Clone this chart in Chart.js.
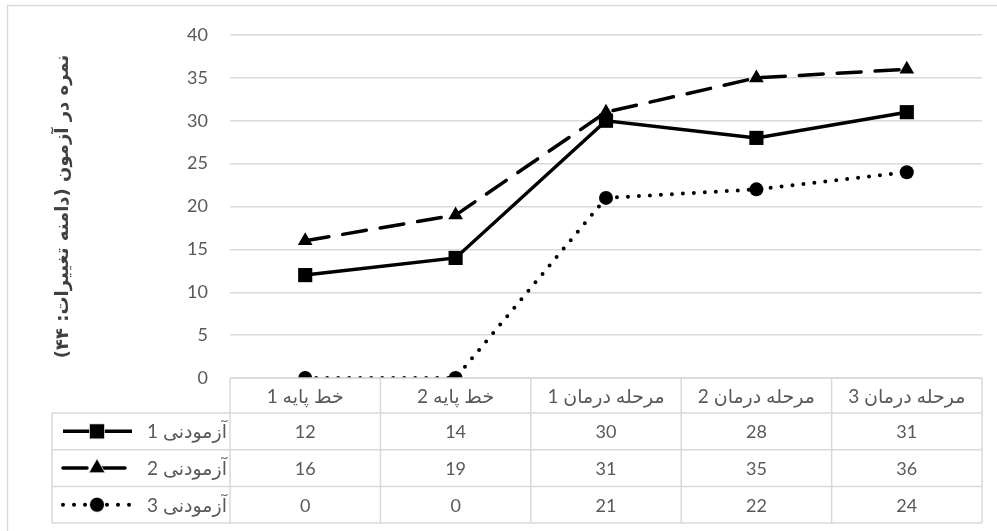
<!DOCTYPE html>
<html>
<head>
<meta charset="utf-8">
<style>
  html, body { margin: 0; padding: 0; background: #fff; }
</style>
</head>
<body>
<canvas id="score-canvas" width="997" height="531"></canvas>
<script src="https://cdn.jsdelivr.net/npm/chart.js@4/dist/chart.umd.min.js"></script>
<script>
    // Categories and series
    let stages = ['خط پایه 1', 'خط پایه 2', 'مرحله درمان 1', 'مرحله درمان 2', 'مرحله درمان 3'];
    let subject_names = ['آزمودنی 1', 'آزمودنی 2', 'آزمودنی 3'];
    let subject_1 = [12, 14, 30, 28, 31];
    let subject_2 = [16, 19, 31, 35, 36];
    let subject_3 = [0, 0, 21, 22, 24];
    let y_title = 'نمره در آزمون (دامنه تغییرات: ۴۴)';

    let text_color = '#595959';
    let grid_color = '#d9d9d9';
    let num_font = "18px Lato, 'DejaVu Sans', sans-serif";
    let label_font = "19px Lato, 'DejaVu Sans', sans-serif";

    // Data table under the plot, drawn from the x scale positions
    let table_plugin = {
      id: 'dataTable',
      afterDraw(chart) {
        let ctx = chart.ctx;
        let area = chart.chartArea;
        let xs = chart.scales.x;
        let n = stages.length;
        let col_w = (area.right - area.left) / n;
        let key_left = 52;
        let row_tops = [area.bottom, area.bottom + 35, area.bottom + 71.7, area.bottom + 108.4, area.bottom + 145.1];

        ctx.save();
        ctx.strokeStyle = grid_color;
        ctx.lineWidth = 1.5;

        // horizontal lines
        ctx.beginPath();
        ctx.moveTo(area.left, row_tops[0]);
        ctx.lineTo(area.right, row_tops[0]);
        for (let r = 1; r < row_tops.length; r++) {
          ctx.moveTo(key_left, row_tops[r]);
          ctx.lineTo(area.right, row_tops[r]);
        }
        // vertical lines
        ctx.moveTo(key_left, row_tops[1]);
        ctx.lineTo(key_left, row_tops[4]);
        for (let i = 0; i <= n; i++) {
          let x = area.left + i * col_w;
          ctx.moveTo(x, row_tops[0]);
          ctx.lineTo(x, row_tops[4]);
        }
        ctx.stroke();

        // header text
        ctx.fillStyle = text_color;
        ctx.font = label_font;
        ctx.textAlign = 'center';
        ctx.textBaseline = 'middle';
        for (let i = 0; i < n; i++) {
          ctx.fillText(stages[i], xs.getPixelForValue(i), (row_tops[0] + row_tops[1]) / 2 + 1);
        }

        // rows: legend key + values
        chart.data.datasets.forEach(function(ds, r) {
          let mid = (row_tops[r + 1] + row_tops[r + 2]) / 2 + 1;
          ctx.fillStyle = text_color;
          ctx.font = num_font;
          ctx.textAlign = 'center';
          for (let i = 0; i < n; i++) {
            ctx.fillText(String(ds.data[i]), xs.getPixelForValue(i), mid);
          }
          ctx.font = label_font;
          ctx.textAlign = 'right';
          ctx.fillText(subject_names[r], area.left - 3, mid);

          // key line
          ctx.save();
          ctx.strokeStyle = ds.borderColor;
          ctx.lineWidth = ds.borderWidth;
          ctx.lineCap = ds.borderCapStyle || 'butt';
          ctx.setLineDash(ds.borderDash || []);
          ctx.beginPath();
          ctx.moveTo(63, mid - 1);
          ctx.lineTo(132, mid - 1);
          ctx.stroke();
          ctx.restore();
          Chart.helpers.drawPoint(ctx, {
            pointStyle: ds.pointStyle,
            radius: ds.pointRadius,
            borderWidth: 1,
            rotation: 0
          }, 97, mid - 1);
          ctx.fillStyle = '#000';
          ctx.fill();
        });
        ctx.restore();
      },
      beforeDraw(chart) {
        let ctx = chart.ctx;
        ctx.save();
        ctx.strokeStyle = grid_color;
        ctx.lineWidth = 1.5;
        ctx.strokeRect(7.5, 5.5, 1000, 540);
        ctx.restore();
      }
    };

    let score_ctx = document.getElementById('score-canvas').getContext('2d');
    let score_chart = new Chart(score_ctx, {
      type: 'line',
      data: {
        labels: stages,
        datasets: [
          {
            label: subject_names[0],
            data: subject_1,
            borderColor: '#000',
            backgroundColor: '#000',
            borderWidth: 3.5,
            pointStyle: 'rect',
            pointRadius: 10,
            pointBorderWidth: 0,
            tension: 0
          },
          {
            label: subject_names[1],
            data: subject_2,
            borderColor: '#000',
            backgroundColor: '#000',
            borderWidth: 3.5,
            borderDash: [24, 14],
            borderCapStyle: 'round',
            pointStyle: 'triangle',
            pointRadius: 8.5,
            pointBorderWidth: 0,
            tension: 0
          },
          {
            label: subject_names[2],
            data: subject_3,
            borderColor: '#000',
            backgroundColor: '#000',
            borderWidth: 4,
            borderDash: [0, 11],
            borderCapStyle: 'round',
            pointStyle: 'circle',
            pointRadius: 7,
            pointBorderWidth: 0,
            tension: 0
          }
        ]
      },
      options: {
        responsive: false,
        animation: false,
        layout: { padding: { left: 50, top: 35, right: 15, bottom: 153 } },
        plugins: {
          legend: { display: false },
          tooltip: { enabled: false }
        },
        scales: {
          x: {
            display: false,
            offset: true
          },
          y: {
            min: 0,
            max: 40,
            ticks: {
              stepSize: 5,
              color: text_color,
              padding: 22,
              font: { family: "Lato, 'DejaVu Sans', sans-serif", size: 18 }
            },
            grid: { color: grid_color, lineWidth: 1.5, drawTicks: false },
            border: { display: false },
            title: {
              display: true,
              text: y_title,
              color: '#404040',
              font: { family: "'DejaVu Sans', sans-serif", size: 18, weight: 'bold' },
              padding: { top: 3, bottom: 3 }
            },
            afterFit(scale) {
              scale.width = 180;
            }
          }
        }
      },
      plugins: [table_plugin]
    });
</script>
</body>
</html>
